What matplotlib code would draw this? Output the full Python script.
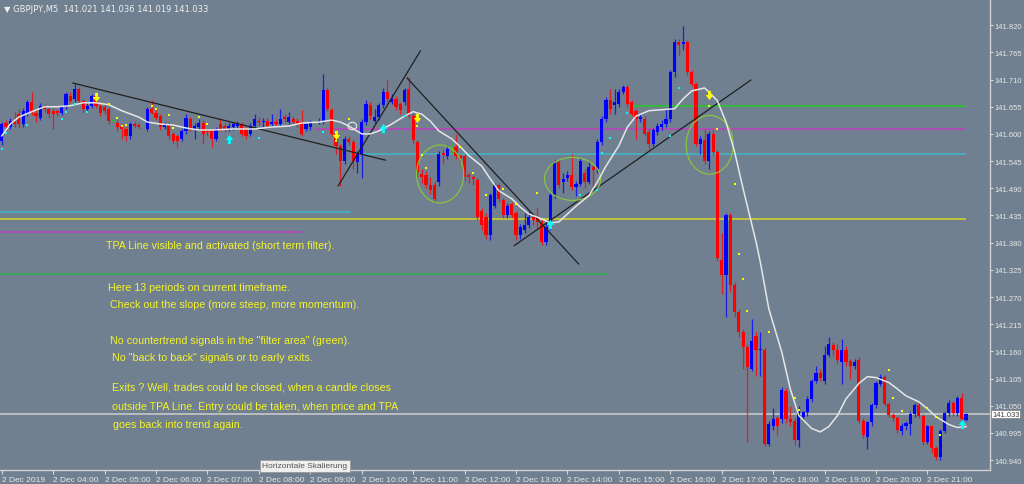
import matplotlib
matplotlib.use("Agg")
import matplotlib.pyplot as plt
from matplotlib.patches import Ellipse
from matplotlib.path import Path
import numpy as np

# GBPJPY M5, 2 Dec 2019 03:00 .. 21:50 (one value per candle)
opens = [141.586, 141.623, 141.613, 141.627, 141.640, 141.620, 141.640, 141.664, 141.643, 141.633,
         141.657, 141.650, 141.647, 141.647, 141.643, 141.654, 141.677, 141.670, 141.691, 141.667,
         141.650, 141.657, 141.677, 141.657, 141.654, 141.650, 141.627, 141.623, 141.617, 141.610,
         141.596, 141.620, 141.619, 141.620, 141.610, 141.650, 141.643, 141.637, 141.614, 141.620,
         141.600, 141.596, 141.590, 141.606, 141.630, 141.610, 141.613, 141.623, 141.606, 141.606,
         141.590, 141.620, 141.617, 141.610, 141.613, 141.617, 141.620, 141.610, 141.600, 141.617,
         141.627, 141.624, 141.627, 141.621, 141.625, 141.621, 141.634, 141.624, 141.631, 141.627,
         141.624, 141.610, 141.614, 141.624, 141.624, 141.624, 141.688, 141.648, 141.600, 141.575,
         141.545, 141.590, 141.583, 141.543, 141.560, 141.624, 141.658, 141.627, 141.634, 141.658,
         141.685, 141.664, 141.671, 141.661, 141.664, 141.691, 141.637, 141.583, 141.519, 141.516,
         141.496, 141.496, 141.503, 141.562, 141.556, 141.573, 141.573, 141.556, 141.556, 141.516,
         141.513, 141.506, 141.445, 141.432, 141.395, 141.455, 141.496, 141.466, 141.435, 141.459,
         141.439, 141.395, 141.405, 141.415, 141.432, 141.430, 141.422, 141.381, 141.415, 141.476,
         141.543, 141.503, 141.511, 141.517, 141.493, 141.499, 141.520, 141.503, 141.533, 141.530,
         141.583, 141.631, 141.668, 141.658, 141.661, 141.685, 141.695, 141.664, 141.647, 141.631,
         141.631, 141.604, 141.580, 141.604, 141.614, 141.621, 141.631, 141.725, 141.786, 141.782,
         141.786, 141.725, 141.701, 141.580, 141.587, 141.546, 141.600, 141.563, 141.344, 141.314,
         141.435, 141.294, 141.239, 141.199, 141.169, 141.125, 141.192, 141.162, 141.162, 140.973,
         141.010, 141.025, 141.024, 141.079, 141.024, 141.020, 140.980, 141.027, 141.037, 141.064,
         141.101, 141.117, 141.101, 141.152, 141.172, 141.162, 141.138, 141.162, 141.140, 141.130,
         141.142, 141.019, 140.987, 141.017, 141.051, 141.095, 141.108, 141.054, 141.032, 141.025,
         140.999, 141.009, 141.014, 141.034, 141.052, 141.030, 140.977, 141.009, 140.964, 140.946,
         140.999, 141.035, 141.056, 141.035, 141.066, 141.021]
highs = [141.624, 141.628, 141.633, 141.645, 141.650, 141.652, 141.668, 141.685, 141.648, 141.663,
         141.660, 141.655, 141.652, 141.650, 141.657, 141.685, 141.684, 141.702, 141.694, 141.670,
         141.662, 141.680, 141.680, 141.662, 141.660, 141.655, 141.632, 141.628, 141.620, 141.614,
         141.624, 141.624, 141.622, 141.628, 141.655, 141.668, 141.650, 141.640, 141.625, 141.624,
         141.604, 141.600, 141.610, 141.640, 141.635, 141.622, 141.630, 141.628, 141.610, 141.610,
         141.614, 141.632, 141.622, 141.622, 141.625, 141.627, 141.624, 141.614, 141.622, 141.640,
         141.635, 141.633, 141.632, 141.640, 141.630, 141.650, 141.640, 141.645, 141.636, 141.632,
         141.648, 141.625, 141.628, 141.630, 141.632, 141.722, 141.692, 141.652, 141.605, 141.580,
         141.595, 141.596, 141.590, 141.565, 141.630, 141.668, 141.665, 141.650, 141.662, 141.692,
         141.710, 141.680, 141.676, 141.665, 141.692, 141.715, 141.642, 141.588, 141.530, 141.525,
         141.512, 141.505, 141.565, 141.568, 141.578, 141.582, 141.600, 141.560, 141.560, 141.520,
         141.516, 141.510, 141.450, 141.440, 141.480, 141.500, 141.500, 141.470, 141.460, 141.462,
         141.445, 141.418, 141.440, 141.445, 141.440, 141.450, 141.428, 141.420, 141.480, 141.548,
         141.550, 141.520, 141.525, 141.560, 141.505, 141.552, 141.530, 141.545, 141.540, 141.590,
         141.636, 141.675, 141.690, 141.690, 141.690, 141.700, 141.700, 141.668, 141.650, 141.640,
         141.636, 141.610, 141.612, 141.622, 141.628, 141.650, 141.730, 141.792, 141.792, 141.819,
         141.790, 141.730, 141.705, 141.595, 141.610, 141.605, 141.608, 141.568, 141.400, 141.440,
         141.440, 141.300, 141.245, 141.205, 141.174, 141.225, 141.200, 141.200, 141.168, 141.020,
         141.045, 141.030, 141.088, 141.085, 141.050, 141.025, 141.050, 141.040, 141.070, 141.105,
         141.130, 141.125, 141.170, 141.190, 141.180, 141.175, 141.185, 141.170, 141.145, 141.145,
         141.148, 141.025, 141.020, 141.055, 141.100, 141.115, 141.112, 141.058, 141.036, 141.030,
         141.015, 141.020, 141.038, 141.056, 141.060, 141.034, 141.012, 141.012, 140.968, 141.002,
         141.038, 141.062, 141.060, 141.070, 141.075, 141.036]
lows = [141.578, 141.608, 141.610, 141.615, 141.612, 141.615, 141.636, 141.638, 141.625, 141.628,
        141.645, 141.633, 141.610, 141.636, 141.638, 141.650, 141.662, 141.665, 141.662, 141.645,
        141.645, 141.652, 141.652, 141.637, 141.640, 141.620, 141.622, 141.605, 141.590, 141.585,
        141.590, 141.612, 141.610, 141.612, 141.605, 141.640, 141.628, 141.608, 141.610, 141.590,
        141.580, 141.574, 141.585, 141.600, 141.605, 141.590, 141.608, 141.580, 141.595, 141.573,
        141.585, 141.606, 141.604, 141.605, 141.608, 141.612, 141.595, 141.590, 141.596, 141.612,
        141.618, 141.615, 141.612, 141.617, 141.616, 141.617, 141.625, 141.620, 141.618, 141.615,
        141.595, 141.605, 141.608, 141.618, 141.620, 141.620, 141.646, 141.595, 141.560, 141.495,
        141.540, 141.578, 141.530, 141.520, 141.510, 141.618, 141.630, 141.622, 141.628, 141.652,
        141.665, 141.660, 141.648, 141.640, 141.658, 141.632, 141.580, 141.510, 141.500, 141.490,
        141.478, 141.462, 141.495, 141.540, 141.550, 141.560, 141.550, 141.544, 141.505, 141.500,
        141.496, 141.426, 141.405, 141.388, 141.385, 141.450, 141.462, 141.430, 141.430, 141.430,
        141.385, 141.388, 141.400, 141.410, 141.415, 141.410, 141.375, 141.376, 141.405, 141.470,
        141.490, 141.480, 141.505, 141.487, 141.475, 141.494, 141.490, 141.498, 141.490, 141.520,
        141.578, 141.625, 141.640, 141.640, 141.655, 141.680, 141.655, 141.636, 141.590, 141.625,
        141.595, 141.570, 141.575, 141.598, 141.608, 141.615, 141.625, 141.715, 141.760, 141.770,
        141.720, 141.696, 141.575, 141.560, 141.540, 141.530, 141.558, 141.343, 141.276, 141.230,
        141.280, 141.230, 141.190, 141.125, 140.976, 141.120, 141.110, 141.110, 140.968, 140.968,
        141.000, 140.990, 141.015, 141.015, 141.010, 140.970, 140.966, 141.020, 141.030, 141.058,
        141.096, 141.100, 141.095, 141.148, 141.150, 141.135, 141.095, 141.130, 141.105, 141.125,
        141.015, 140.985, 140.963, 141.010, 141.045, 141.090, 141.050, 141.028, 141.020, 140.995,
        140.990, 141.000, 140.990, 141.028, 141.025, 140.970, 140.972, 140.955, 140.940, 140.940,
        140.995, 141.030, 141.030, 141.030, 141.018, 141.019]
closes = [141.620, 141.613, 141.627, 141.620, 141.620, 141.647, 141.664, 141.643, 141.637, 141.657,
          141.650, 141.640, 141.640, 141.642, 141.654, 141.681, 141.667, 141.691, 141.667, 141.650,
          141.657, 141.677, 141.657, 141.643, 141.647, 141.627, 141.627, 141.613, 141.610, 141.596,
          141.620, 141.617, 141.615, 141.620, 141.650, 141.643, 141.633, 141.613, 141.620, 141.596,
          141.586, 141.586, 141.606, 141.633, 141.610, 141.617, 141.623, 141.600, 141.603, 141.590,
          141.610, 141.610, 141.610, 141.617, 141.620, 141.620, 141.600, 141.596, 141.617, 141.631,
          141.624, 141.627, 141.617, 141.625, 141.621, 141.631, 141.631, 141.634, 141.624, 141.621,
          141.600, 141.621, 141.624, 141.624, 141.627, 141.688, 141.651, 141.600, 141.575, 141.545,
          141.590, 141.583, 141.545, 141.560, 141.624, 141.661, 141.637, 141.634, 141.658, 141.685,
          141.671, 141.671, 141.654, 141.648, 141.688, 141.637, 141.587, 141.523, 141.513, 141.496,
          141.486, 141.469, 141.560, 141.557, 141.570, 141.573, 141.556, 141.550, 141.513, 141.513,
          141.509, 141.432, 141.415, 141.395, 141.476, 141.496, 141.469, 141.435, 141.455, 141.435,
          141.395, 141.412, 141.415, 141.432, 141.425, 141.422, 141.381, 141.412, 141.476, 141.543,
          141.496, 141.509, 141.517, 141.493, 141.499, 141.546, 141.503, 141.533, 141.526, 141.583,
          141.631, 141.668, 141.651, 141.664, 141.685, 141.695, 141.661, 141.641, 141.631, 141.635,
          141.600, 141.580, 141.607, 141.617, 141.621, 141.631, 141.725, 141.786, 141.780, 141.786,
          141.725, 141.701, 141.580, 141.590, 141.546, 141.600, 141.563, 141.348, 141.314, 141.435,
          141.294, 141.240, 141.199, 141.169, 141.128, 141.182, 141.162, 141.165, 140.973, 141.014,
          141.024, 141.009, 141.081, 141.024, 141.017, 140.980, 141.044, 141.037, 141.064, 141.101,
          141.117, 141.106, 141.152, 141.174, 141.162, 141.142, 141.162, 141.138, 141.130, 141.138,
          141.020, 140.990, 141.017, 141.051, 141.097, 141.108, 141.054, 141.032, 141.025, 141.000,
          141.010, 141.015, 141.034, 141.052, 141.030, 140.977, 141.009, 140.964, 140.946, 140.999,
          141.035, 141.056, 141.035, 141.066, 141.024, 141.033]

# TPA line (smoothed), read at selected candles
tpa_idx = [0, 2, 4, 7, 10, 13, 16, 19, 22, 25, 28, 32, 34, 37, 40, 43, 46, 49, 54, 59, 63, 67, 70, 74,
           77, 79, 81, 84, 86, 88, 91, 94, 96, 98, 100, 102, 105, 107, 109, 112, 114, 116, 119, 121,
           123, 126, 128, 130, 132, 134, 137, 139, 141, 144, 146, 148, 151, 154, 157, 159, 161, 164,
           165, 167, 169, 171, 173, 176, 177, 179, 182, 184, 186, 189, 191, 193, 195, 197, 200, 202,
           204, 207, 209, 211, 214, 216, 218, 221, 223, 225]
tpa_val = [141.596, 141.620, 141.634, 141.645, 141.655, 141.655, 141.657, 141.663, 141.663, 141.659,
           141.647, 141.634, 141.624, 141.620, 141.618, 141.612, 141.608, 141.608, 141.610, 141.610,
           141.614, 141.616, 141.622, 141.624, 141.628, 141.624, 141.616, 141.600, 141.600, 141.606,
           141.620, 141.636, 141.645, 141.640, 141.626, 141.606, 141.590, 141.574, 141.556, 141.535,
           141.509, 141.485, 141.469, 141.452, 141.438, 141.428, 141.420, 141.422, 141.438, 141.454,
           141.475, 141.503, 141.535, 141.576, 141.614, 141.636, 141.647, 141.649, 141.651, 141.671,
           141.687, 141.693, 141.685, 141.667, 141.624, 141.564, 141.489, 141.382, 141.341, 141.246,
           141.159, 141.084, 141.030, 141.004, 140.997, 141.008, 141.030, 141.064, 141.095, 141.109,
           141.107, 141.097, 141.084, 141.070, 141.058, 141.044, 141.028, 141.012, 141.006, 141.008]

# indicator dots
yellow_idx = [25, 27, 28, 29, 35, 36, 39, 40, 46, 48, 78, 81, 97, 98, 99, 107, 110, 113, 117, 120,
              125, 165, 167, 171, 172, 173, 174, 179, 185, 186, 207, 208, 210, 216, 218, 219]
yellow_val = [141.661, 141.632, 141.616, 141.618, 141.657, 141.651, 141.638, 141.612, 141.634, 141.620,
              141.586, 141.630, 141.616, 141.558, 141.531, 141.574, 141.521, 141.477, 141.489, 141.458,
              141.481, 141.657, 141.610, 141.499, 141.357, 141.307, 141.242, 141.200, 141.066, 141.042,
              141.123, 141.066, 141.040, 141.046, 141.028, 140.991]
cyan_idx = [0, 1, 6, 14, 15, 17, 20, 60, 75, 94, 135, 139, 140, 142, 146, 156, 158]
cyan_val = [141.570, 141.602, 141.618, 141.630, 141.645, 141.661, 141.645, 141.592, 141.604, 141.636,
            141.477, 141.487, 141.562, 141.592, 141.643, 141.596, 141.693]

# signal arrows
sell_idx = [22, 78, 97, 165]
sell_val = [141.675, 141.598, 141.632, 141.679]
buy_idx = [53, 89, 128, 224]
buy_val = [141.590, 141.612, 141.418, 141.014]

# horizontal levels: (price, from candle, to candle, colour)
levels = [(141.657, 147, 225, "#22cc22"),
          (141.610, 73, 225, "#c040c0"),
          (141.560, 84, 225, "#40b8c8"),
          (141.428, -1, 225, "#d8d820"),
          (141.442, -1, 81.5, "#40b8c8"),
          (141.402, -1, 70, "#c040c0"),
          (141.317, -1, 141.5, "#30b050")]

# trend lines
trend_lines = [((16.6, 141.703), (89.5, 141.547)),
               ((78.5, 141.495), (97.7, 141.768)),
               ((94.6, 141.713), (134.6, 141.337)),
               ((119.6, 141.374), (174.8, 141.709))]

# highlight circles: centre candle, centre price, width (candles), height (price)
circles = [(102.3, 141.519, 11.0, 0.117),
           (133.2, 141.509, 13.1, 0.087),
           (165.2, 141.578, 11.0, 0.119)]

price_ticks = [140.940, 140.995, 141.050, 141.105, 141.160, 141.215, 141.270, 141.325, 141.380,
               141.435, 141.490, 141.545, 141.600, 141.655, 141.710, 141.765, 141.820]
hour_labels = ["2 Dec 2019", "2 Dec 04:00", "2 Dec 05:00", "2 Dec 06:00", "2 Dec 07:00",
               "2 Dec 08:00", "2 Dec 09:00", "2 Dec 10:00", "2 Dec 11:00", "2 Dec 12:00",
               "2 Dec 13:00", "2 Dec 14:00", "2 Dec 15:00", "2 Dec 16:00", "2 Dec 17:00",
               "2 Dec 18:00", "2 Dec 19:00", "2 Dec 20:00", "2 Dec 21:00"]

notes = ["TPA Line visible and activated (short term filter).",
         "Here 13 periods on current timeframe.",
         "Check out the slope (more steep, more momentum).",
         "No countertrend signals in the \"filter area\" (green).",
         "No \"back to back\" signals or to early exits.",
         "Exits ? Well, trades could be closed, when a candle closes",
         "outside TPA Line. Entry could be taken, when price and TPA",
         "goes back into trend again."]
note_pos = [(106, 246), (108, 288), (110, 305), (110, 341), (112, 358), (112, 387), (112, 407), (113, 425)]

BG = "#708090"
AX_FONT = "Liberation Sans"
fig = plt.figure(figsize=(10.24, 4.85), dpi=100, facecolor=BG)
ax = fig.add_axes([0, 14 / 485, 990 / 1024, 471 / 485])
ax.set_facecolor(BG)

o = np.array(opens)
h = np.array(highs)
l = np.array(lows)
c = np.array(closes)
x = np.arange(len(o))
col = np.where(c > o, "#0000ff", np.where(c < o, "#ff0000", "#20c020"))

ax.vlines(x, l, h, colors=col, lw=0.9, alpha=0.75, zorder=2)
body = np.maximum(np.abs(c - o), 0.0008)
ax.bar(x, body, bottom=np.minimum(o, c), width=0.72, color=col, lw=0, zorder=3)

# levels
for price, x0, x1, lc in levels:
    ax.hlines(price, x0, x1, colors=lc, lw=1.1, zorder=1)
ax.axhline(closes[-1], color="#c8c8c8", lw=1.2, zorder=1)

for (x0, y0), (x1, y1) in trend_lines:
    ax.plot([x0, x1], [y0, y1], color="#202020", lw=0.9, zorder=4)

for cx, cy, w, hh in circles:
    ax.add_patch(Ellipse((cx, cy), w, hh, fill=False, ec="#86c43c", lw=0.9, zorder=5))
ax.add_patch(Ellipse((81.8, 141.616), 2.0, 0.015, fill=False, ec="#e0e0e0", lw=0.9, zorder=5))

ax.plot(tpa_idx, tpa_val, color="#e6e6e6", lw=1.1, zorder=5)

ax.scatter(yellow_idx, yellow_val, marker="s", s=4.5, color="#ffff00", lw=0, zorder=6)
ax.scatter(cyan_idx, cyan_val, marker="s", s=4.5, color="#00ffff", lw=0, zorder=6)

down_arrow = Path([(-0.3, 1), (0.3, 1), (0.3, 0.1), (0.8, 0.1), (0, -1), (-0.8, 0.1), (-0.3, 0.1), (-0.3, 1)])
up_arrow = Path([(-0.3, -1), (0.3, -1), (0.3, -0.1), (0.8, -0.1), (0, 1), (-0.8, -0.1), (-0.3, -0.1), (-0.3, -1)])
ax.scatter(sell_idx, sell_val, marker=down_arrow, s=45, color="#ffff00", lw=0, zorder=7)
ax.scatter(buy_idx, buy_val, marker=up_arrow, s=45, color="#00ffff", lw=0, zorder=7)

ax.set_xlim(-0.4, 230.6)
ax.set_ylim(140.920, 141.873)

for s in ["top", "left"]:
    ax.spines[s].set_visible(False)
for s in ["right", "bottom"]:
    ax.spines[s].set_color("#d0d0d0")
    ax.spines[s].set_linewidth(1)

ax.yaxis.tick_right()
ax.set_yticks(price_ticks)
ax.set_yticklabels([f"{p:.3f}" for p in price_ticks], family=AX_FONT)
ax.tick_params(axis="y", colors="#d8d8d8", labelsize=5.5, length=2, pad=1, labelcolor="#e8e8e8")
ax.set_xticks(np.arange(len(hour_labels)) * 12)
ax.set_xticklabels(hour_labels, ha="left", family=AX_FONT)
ax.tick_params(axis="x", colors="#d8d8d8", labelsize=6, length=3, pad=1, labelcolor="#e8e8e8")

ax.annotate(f"{closes[-1]:.3f}", xy=(1.0, closes[-1]), xycoords=("axes fraction", "data"),
            xytext=(1.5, 0), textcoords="offset points", fontsize=5.5, color="#404040", va="center",
            family=AX_FONT,
            bbox=dict(boxstyle="square,pad=0.1", fc="white", ec="#808080", lw=0.5))

fig.text(4 / 1024, 1 - 9 / 485,
         f"\u25BC GBPJPY,M5  {opens[-1]:.3f} {highs[-1]:.3f} {lows[-1]:.3f} {closes[-1]:.3f}",
         fontsize=6, color="#f0f0f0", va="center", ha="left")

for t, (px, py) in zip(notes, note_pos):
    fig.text(px / 1024, 1 - py / 485, t, fontsize=7.7, color="#f4f428", va="center", ha="left",
             family="Liberation Sans")

fig.text(305 / 1024, 1 - 467 / 485, "Horizontale Skalierung", fontsize=6, color="#555555",
         ha="center", va="center", family=AX_FONT,
         bbox=dict(boxstyle="square,pad=0.3", fc="#eeeeee", ec="#999999", lw=0.6))

fig.savefig("out.png", dpi=100, facecolor=BG)
